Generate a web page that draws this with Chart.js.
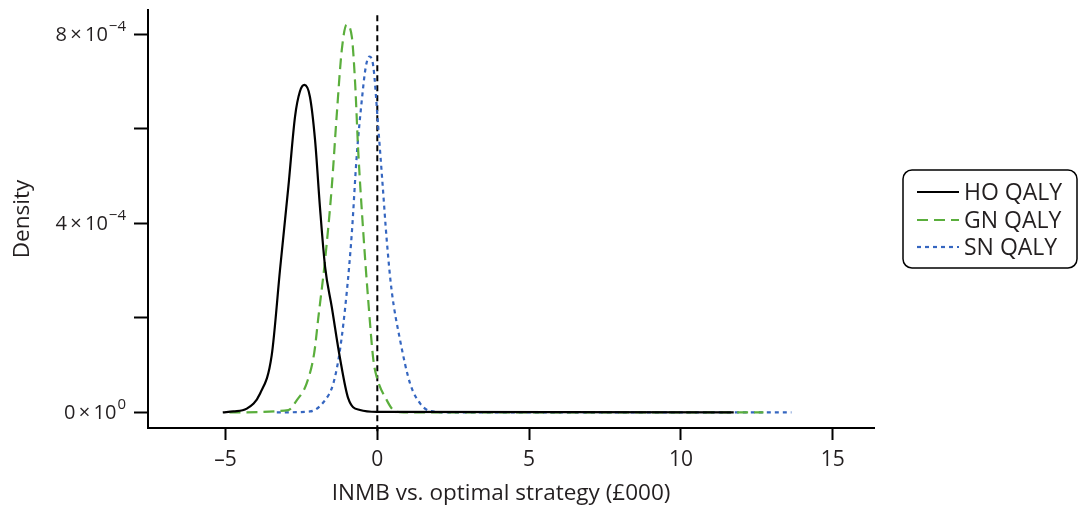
<!DOCTYPE html>
<html>
<head>
<meta charset="utf-8">
<script src="https://cdn.jsdelivr.net/npm/chart.js@4.4.1/dist/chart.umd.min.js"></script>
<style>
  html, body { margin: 0; padding: 0; background: #ffffff; }
  canvas { display: block; }
</style>
</head>
<body>
<canvas id="chart" width="1078" height="513"></canvas>
<script>
// Density of incremental net monetary benefit (£000) for each strategy.
// Density values below are in units of 1e-4.
const DENSITY_UNIT = 1e-4;

const hoX = [-5.09, -4.74, -4.30, -3.86, -3.48, -3.20, -2.93, -2.71, -2.55, -2.40, -2.22, -2.05, -1.89, -1.72, -1.50, -1.23, -0.96, -0.57, 0.00, 11.74];
const hoDensity = [0.00, 0.02, 0.08, 0.40, 1.20, 3.05, 4.77, 6.26, 6.79, 6.93, 6.68, 5.76, 4.35, 3.08, 2.23, 1.15, 0.30, 0.05, 0.01, 0.00];

const gnX = [-4.87, -2.93, -2.65, -2.33, -2.08, -1.94, -1.72, -1.50, -1.34, -1.17, -1.01, -0.84, -0.73, -0.63, -0.46, -0.30, -0.13, -0.02, 0.31, 0.53, 0.87, 12.72];
const gnDensity = [0.00, 0.05, 0.26, 0.61, 1.25, 2.02, 3.23, 4.77, 6.26, 7.67, 8.20, 7.95, 6.96, 5.55, 3.79, 2.38, 1.11, 0.75, 0.26, 0.05, 0.00, 0.00];

const snX = [-3.31, -2.22, -1.72, -1.45, -1.23, -1.01, -0.84, -0.68, -0.51, -0.38, -0.26, -0.13, 0.03, 0.18, 0.31, 0.47, 0.75, 1.08, 1.41, 1.74, 2.40, 13.64];
const snDensity = [0.00, 0.02, 0.26, 0.61, 1.32, 2.52, 3.79, 5.41, 6.61, 7.31, 7.53, 7.31, 6.04, 4.77, 3.65, 2.59, 1.53, 0.61, 0.19, 0.03, 0.00, 0.00];

const seriesNames = ['HO QALY', 'GN QALY', 'SN QALY'];

// Reference line at zero INMB
const refLineX = [0, 0];
const refLineDensity = [-0.4, 8.45];

const xTicks = [-5, 0, 5, 10, 15];
const yTicks = [0, 2, 4, 6, 8];           // in units of 1e-4
// Labelled density ticks: [mantissa, exponent]
const yTickLabels = { 0: ['0', '0'], 4: ['4', '\u22124'], 8: ['8', '\u22124'] };

const xTitle = 'INMB vs. optimal strategy (£000)';

function toPoints(xs, ys) {
  return xs.map((x, i) => ({ x: x, y: ys[i] * DENSITY_UNIT }));
}

const FONT = '"Open Sans", "DejaVu Sans", sans-serif';
const TEXT = '#231f20';

const styles = [
  { color: '#000000', dash: [], width: 2.2 },
  { color: '#5aae3c', dash: [11, 6], width: 2.2 },
  { color: '#3566c0', dash: [4, 4], width: 2.2 }
];

const series = [
  toPoints(hoX, hoDensity),
  toPoints(gnX, gnDensity),
  toPoints(snX, snDensity)
];

const datasets = series.map((pts, i) => ({
  label: seriesNames[i],
  data: pts,
  borderColor: styles[i].color,
  borderDash: styles[i].dash,
  borderWidth: styles[i].width,
  pointRadius: 0,
  fill: false,
  cubicInterpolationMode: 'monotone'
}));

datasets.push({
  label: 'zero',
  data: toPoints(refLineX, refLineDensity),
  borderColor: '#000000',
  borderDash: [6, 4],
  borderWidth: 2,
  pointRadius: 0,
  fill: false,
  clip: false
});

// Density tick labels written as mantissa × 10 with a raised exponent,
// plus the x-axis title centred under the labelled range
const axisText = {
  id: 'axisText',
  afterDraw(chart) {
    const ctx = chart.ctx;
    const y = chart.scales.y;
    const right = y.right - 14 - 8;
    ctx.save();
    ctx.fillStyle = TEXT;
    ctx.textBaseline = 'alphabetic';
    ctx.textAlign = 'left';
    yTicks.forEach(t => {
      const lab = yTickLabels[t];
      if (!lab) return;
      const py = y.getPixelForValue(t * DENSITY_UNIT);
      const base = lab[0] + '\u2009\u00d7\u200910';
      ctx.font = '15px ' + FONT;
      const supW = ctx.measureText(lab[1]).width;
      ctx.font = '20px ' + FONT;
      const baseW = ctx.measureText(base).width;
      const x0 = right - supW - baseW - 1;
      ctx.fillText(base, x0, py + 7);
      ctx.font = '15px ' + FONT;
      ctx.fillText(lab[1], x0 + baseW + 1, py - 3.5);
    });

    const x = chart.scales.x;
    ctx.font = '22.5px ' + FONT;
    ctx.textAlign = 'center';
    ctx.textBaseline = 'middle';
    ctx.fillText(xTitle, (x.getPixelForValue(-5) + x.getPixelForValue(15)) / 2 - 28, 494);
    ctx.restore();
  }
};

// Boxed legend drawn to the right of the plot
const boxedLegend = {
  id: 'boxedLegend',
  afterDraw(chart) {
    const ctx = chart.ctx;
    const bx = 903, by = 170, bw = 174, bh = 98, r = 9;
    ctx.save();
    ctx.beginPath();
    ctx.roundRect(bx, by, bw, bh, r);
    ctx.lineWidth = 1.5;
    ctx.strokeStyle = '#000000';
    ctx.setLineDash([]);
    ctx.stroke();
    ctx.font = '23px ' + FONT;
    ctx.textBaseline = 'middle';
    ctx.fillStyle = TEXT;
    const rows = [192, 220, 247];
    seriesNames.forEach((name, i) => {
      ctx.beginPath();
      ctx.setLineDash(styles[i].dash);
      ctx.strokeStyle = styles[i].color;
      ctx.lineWidth = styles[i].width;
      ctx.moveTo(917, rows[i]);
      ctx.lineTo(959, rows[i]);
      ctx.stroke();
      ctx.setLineDash([]);
      ctx.fillText(name, 964, rows[i] + 1);
    });
    ctx.restore();
  }
};

new Chart(document.getElementById('chart'), {
  type: 'line',
  data: { datasets: datasets },
  plugins: [axisText, boxedLegend],
  options: {
    responsive: false,
    animation: false,
    devicePixelRatio: 1,
    layout: { padding: { top: 10, right: 204, left: 0, bottom: 0 } },
    plugins: { legend: { display: false }, tooltip: { enabled: false } },
    scales: {
      x: {
        type: 'linear',
        min: -7.553,
        max: 16.36,
        afterFit(scale) { scale.height = 85; scale.paddingLeft = 0; scale.paddingRight = 0; },
        afterBuildTicks(scale) { scale.ticks = xTicks.map(v => ({ value: v })); },
        border: { display: true, color: '#000000', width: 2 },
        grid: { display: true, drawOnChartArea: false, drawTicks: true, tickLength: 12, tickWidth: 2, tickColor: '#000000' },
        ticks: {
          font: { family: FONT, size: 21 },
          color: TEXT,
          padding: 7,
          maxRotation: 0,
          callback: v => (v < 0 ? '\u2013' + Math.abs(v) : String(v))
        },
        title: { display: false }
      },
      y: {
        type: 'linear',
        min: -0.330 * DENSITY_UNIT,
        max: 8.514 * DENSITY_UNIT,
        afterFit(scale) { scale.width = 148; scale.paddingTop = 0; scale.paddingBottom = 0; },
        afterBuildTicks(scale) { scale.ticks = yTicks.map(v => ({ value: v * DENSITY_UNIT })); },
        border: { display: true, color: '#000000', width: 2 },
        grid: { display: true, drawOnChartArea: false, drawTicks: true, tickLength: 14, tickWidth: 2, tickColor: '#000000' },
        ticks: {
          font: { family: FONT, size: 17 },
          color: TEXT,
          padding: 8,
          callback: () => ''
        },
        title: {
          display: true,
          text: 'Density',
          font: { family: FONT, size: 22.5 },
          color: TEXT,
          padding: { top: 9, bottom: 0 }
        }
      }
    }
  }
});
</script>
</body>
</html>
